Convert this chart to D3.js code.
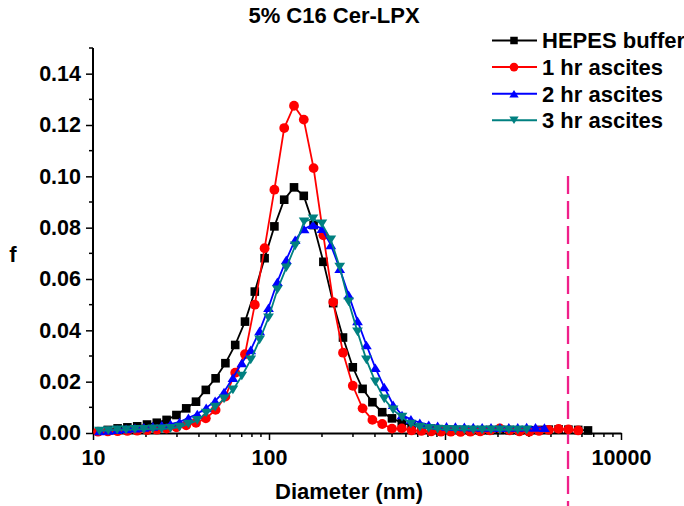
<!DOCTYPE html>
<html>
<head>
<meta charset="utf-8">
<script src="https://cdn.jsdelivr.net/npm/d3@7"></script>
<style>
  html, body { margin: 0; padding: 0; background: #fff; }
  text { font-family: "Liberation Sans", Arial, sans-serif; font-weight: bold; }
</style>
</head>
<body>
<div id="chart"></div>
<script>
// bin diameters (nm), HEPES buffer and 1 hr ascites runs
var diamA = [10.68, 12.14, 13.80, 15.68, 17.83, 20.27, 23.04, 26.19, 29.78, 33.85,
    38.48, 43.75, 49.73, 56.53, 64.27, 73.06, 83.05, 94.41, 107.3, 122.0,
    138.7, 157.6, 179.2, 203.7, 231.6, 263.3, 299.3, 340.2, 386.8, 439.7,
    499.8, 568.2, 645.9, 734.3, 834.7, 948.9, 1079, 1226, 1394, 1585,
    1802, 2048, 2328, 2647, 3009, 3420, 3888, 4420, 5024, 5712, 6493];
// bin diameters (nm), 2 hr and 3 hr ascites runs
var diamB = [10.87, 12.22, 13.72, 15.42, 17.32, 19.46, 21.87, 24.57, 27.60, 31.01,
    34.84, 39.14, 43.98, 49.41, 55.52, 62.37, 70.07, 78.73, 88.45, 99.37,
    111.6, 125.4, 140.9, 158.3, 177.9, 199.8, 224.5, 252.2, 283.4, 318.4,
    357.7, 401.9, 451.5, 507.3, 569.9, 640.3, 719.4, 808.2, 908.0, 1020,
    1146, 1288, 1447, 1626, 1826, 2052, 2305, 2590, 2910, 3268, 3672];

var hepesF = [null, 0.0012, 0.0018, 0.0022, 0.0026, 0.0033, 0.0040, 0.0051, 0.0070, 0.0096,
    0.0122, 0.0168, 0.0213, 0.0272, 0.0343, 0.0434, 0.0551, 0.0681, 0.0805, 0.0909,
    0.0957, 0.0924, 0.0810, 0.0667, 0.0506, 0.0372, 0.0256, 0.0172, 0.0120, 0.0081,
    0.0057, 0.0040, 0.0030, 0.0022, 0.0017, 0.0014, 0.0012, 0.0011, 0.0010, 0.0010,
    0.0011, 0.0012, 0.0011, 0.0010, 0.0011, 0.0012, 0.0013, 0.0014, 0.0013, 0.0012, 0.0010];
var asc1F = [0.0005, 0.0006, 0.0007, 0.0008, 0.0009, 0.0011, 0.0013, 0.0017, 0.0022, 0.0030,
    0.0040, 0.0057, 0.0090, 0.0142, 0.0235, 0.0307, 0.0500, 0.0720, 0.0948, 0.1188,
    0.1275, 0.1221, 0.1032, 0.0770, 0.0510, 0.0313, 0.0184, 0.0096, 0.0051, 0.0035,
    0.0017, 0.0018, 0.0010, 0.0008, 0.0006, 0.0005, 0.0005, 0.0004, 0.0005, 0.0006,
    0.0010, 0.0018, 0.0010, 0.0006, 0.0005, 0.0008, 0.0012, 0.0016, 0.0014, 0.0010, null];
var asc2F = [0.0008, 0.0010, 0.0013, 0.0016, 0.0019, 0.0022, 0.0026, 0.0030, 0.0035, 0.0043,
    0.0059, 0.0074, 0.0098, 0.0125, 0.0160, 0.0215, 0.0273, 0.0324, 0.0398, 0.0488,
    0.0589, 0.0675, 0.0753, 0.0795, 0.0812, 0.0796, 0.0733, 0.0640, 0.0538, 0.0437,
    0.0343, 0.0254, 0.0179, 0.0110, 0.0070, 0.0053, 0.0040, 0.0032, 0.0028, 0.0026,
    0.0025, 0.0024, 0.0023, 0.0022, 0.0022, 0.0021, 0.0022, 0.0022, 0.0023, 0.0022, 0.0021];
var asc3F = [0.0008, 0.0010, 0.0012, 0.0012, 0.0014, 0.0014, 0.0016, 0.0016, 0.0018, 0.0023,
    0.0035, 0.0049, 0.0078, 0.0101, 0.0133, 0.0168, 0.0222, 0.0285, 0.0363, 0.0449,
    0.0558, 0.0644, 0.0729, 0.0823, 0.0835, 0.0815, 0.0753, 0.0647, 0.0511, 0.0394,
    0.0285, 0.0199, 0.0133, 0.0090, 0.0062, 0.0035, 0.0023, 0.0018, 0.0015, 0.0014,
    0.0013, 0.0013, 0.0012, 0.0012, 0.0012, 0.0012, 0.0012, 0.0012, 0.0012, null, null];

var seriesNames = ["HEPES buffer", "1 hr ascites", "2 hr ascites", "3 hr ascites"];
var xTickValues = [10, 100, 1000, 10000];
var yTickValues = [0, 0.02, 0.04, 0.06, 0.08, 0.10, 0.12, 0.14];
var cutoffDiameter = 5000;

var W = 684, H = 506;
var svg = d3.select("#chart").append("svg").attr("width", W).attr("height", H);

var x = d3.scaleLog().domain([10, 10000]).range([93, 621]);
var y = d3.scaleLinear().domain([0, 0.15]).range([433, 48]);

var series = [
    { name: seriesNames[0], d: diamA, f: hepesF, color: "#000000", shape: "square" },
    { name: seriesNames[1], d: diamA, f: asc1F, color: "#ff0000", shape: "circle" },
    { name: seriesNames[2], d: diamB, f: asc2F, color: "#0000ff", shape: "up" },
    { name: seriesNames[3], d: diamB, f: asc3F, color: "#008080", shape: "down" }
];

function marker(g, shape, s, color) {
    if (shape === "square") {
        g.append("rect").attr("x", -s / 2).attr("y", -s / 2).attr("width", s).attr("height", s).attr("fill", color);
    } else if (shape === "circle") {
        g.append("circle").attr("r", s / 2 + 0.6).attr("fill", color);
    } else {
        var h = s * 1.0, w = s * 1.25;
        var p = shape === "up"
            ? "M0," + (-h / 2) + "L" + (w / 2) + "," + (h / 2) + "L" + (-w / 2) + "," + (h / 2) + "Z"
            : "M0," + (h / 2) + "L" + (w / 2) + "," + (-h / 2) + "L" + (-w / 2) + "," + (-h / 2) + "Z";
        g.append("path").attr("d", p).attr("fill", color);
    }
}

// axes
var xAxis = d3.axisBottom(x)
    .tickValues(xTickValues)
    .tickFormat(d3.format("d"))
    .tickSizeInner(7).tickSizeOuter(0).tickPadding(10);
var gx = svg.append("g").attr("transform", "translate(0,433)").call(xAxis);

var minorX = [];
[10, 100, 1000].forEach(function (dec) {
    for (var k = 2; k <= 9; k++) minorX.push(dec * k);
});
svg.append("g").selectAll("line").data(minorX).enter().append("line")
    .attr("x1", function (d) { return x(d); }).attr("x2", function (d) { return x(d); })
    .attr("y1", 433).attr("y2", 437)
    .attr("stroke", "#000").attr("stroke-width", 1.5);

var yAxis = d3.axisLeft(y)
    .tickValues(yTickValues)
    .tickFormat(d3.format(".2f"))
    .tickSizeInner(7).tickSizeOuter(0).tickPadding(5);
var gy = svg.append("g").attr("transform", "translate(93,0)").call(yAxis);

var minorY = [0.01, 0.03, 0.05, 0.07, 0.09, 0.11, 0.13, 0.15];
svg.append("g").selectAll("line").data(minorY).enter().append("line")
    .attr("x1", 89).attr("x2", 93)
    .attr("y1", function (d) { return y(d); }).attr("y2", function (d) { return y(d); })
    .attr("stroke", "#000").attr("stroke-width", 1.5);

[gx, gy].forEach(function (g) {
    g.select(".domain").attr("stroke", "#000").attr("stroke-width", 2);
    g.selectAll(".tick line").attr("stroke", "#000").attr("stroke-width", 1.5);
    g.selectAll(".tick text").attr("fill", "#000")
        .style("font-size", "21.5px").style("font-family", "'Liberation Sans', Arial, sans-serif")
        .style("font-weight", "bold");
});
gy.select(".domain").attr("d", "M0," + y(0.15) + "V" + y(0));

// cut-off line
svg.append("line")
    .attr("x1", x(cutoffDiameter)).attr("x2", x(cutoffDiameter))
    .attr("y1", 176).attr("y2", H)
    .attr("stroke", "#f0208a").attr("stroke-width", 2.3)
    .attr("stroke-dasharray", "18,7");

// series
var line = d3.line()
    .defined(function (p) { return p[1] !== null; })
    .x(function (p) { return x(p[0]); })
    .y(function (p) { return y(p[1]); });

series.forEach(function (s) {
    var pts = s.d.map(function (d, i) { return [d, s.f[i]]; });
    var g = svg.append("g");
    g.append("path").datum(pts)
        .attr("d", line)
        .attr("fill", "none").attr("stroke", s.color).attr("stroke-width", 1.8);
    pts.filter(function (p) { return p[1] !== null; }).forEach(function (p) {
        var m = g.append("g").attr("transform", "translate(" + x(p[0]) + "," + y(p[1]) + ")");
        marker(m, s.shape, 8.6, s.color);
    });
});

// title and axis labels
svg.append("text").attr("x", 334).attr("y", 23).attr("text-anchor", "middle")
    .style("font-size", "22px").text("5% C16 Cer-LPX");
svg.append("text").attr("x", 349).attr("y", 499).attr("text-anchor", "middle")
    .style("font-size", "22px").text("Diameter (nm)");
svg.append("text").attr("x", 13).attr("y", 262).attr("text-anchor", "middle")
    .style("font-size", "22px").text("f");

// legend
var legend = svg.append("g");
series.forEach(function (s, i) {
    var cy = 40.5 + i * 26.6;
    var row = legend.append("g").attr("transform", "translate(0," + cy + ")");
    row.append("line").attr("x1", 492).attr("x2", 537).attr("y1", 0).attr("y2", 0)
        .attr("stroke", s.color).attr("stroke-width", 2);
    var m = row.append("g").attr("transform", "translate(514,0)");
    marker(m, s.shape, 7.5, s.color);
    row.append("text").attr("x", 542).attr("y", 7.8)
        .style("font-size", "22px").text(s.name);
});
</script>
</body>
</html>
